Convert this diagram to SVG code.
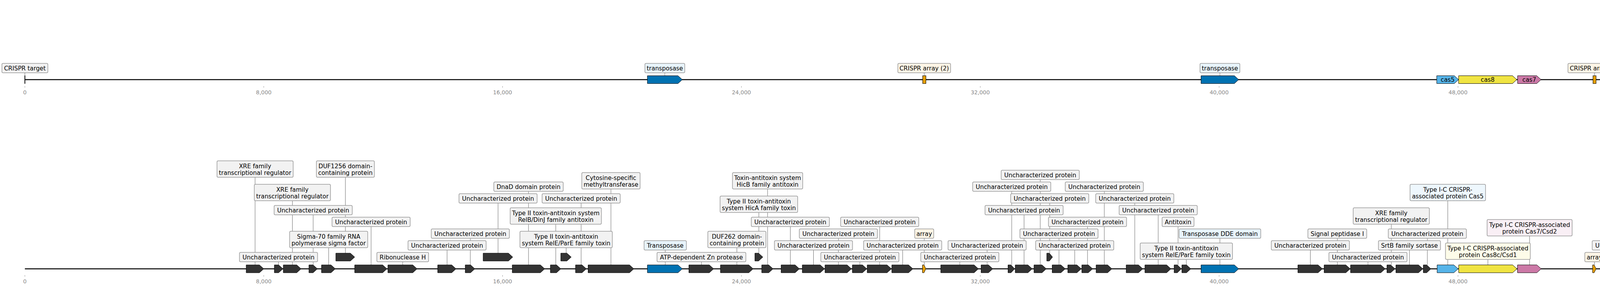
<svg xmlns="http://www.w3.org/2000/svg" width="4915" height="736" viewBox="0 0 4915 736">
<style>
.ax{stroke:#000;stroke-width:2.5;fill:none}
.tk{stroke:#999;stroke-width:1}
.tl{font-family:"DejaVu Sans",sans-serif;font-size:13.9px;fill:#888;text-anchor:middle}
.g{fill:#333;stroke:#000;stroke-width:1}
.tp{fill:#0072b2;stroke:#000;stroke-width:1}
.ar{fill:#e69f00;stroke:#000;stroke-width:1}
.c5{fill:#56b4e9;stroke:#000;stroke-width:1}
.c8{fill:#f0e442;stroke:#000;stroke-width:1}
.c7{fill:#cc79a7;stroke:#000;stroke-width:1}
.c9{fill:#d55e00;stroke:#000;stroke-width:1}
.b{fill:#f2f2f2;stroke:#999;stroke-width:1.5}
.bb{fill:#e8f4fb;stroke:#999;stroke-width:1.5}
.bs{fill:#eef7fd;stroke:#999;stroke-width:1.5}
.bo{fill:#fdf5e6;stroke:#999;stroke-width:1.5}
.by{fill:#fdfce9;stroke:#999;stroke-width:1.5}
.bp{fill:#f9eff5;stroke:#999;stroke-width:1.5}
.t{font-family:"DejaVu Sans",sans-serif;font-size:15.28px;fill:#000;text-anchor:middle}
.tw{font-family:"DejaVu Sans",sans-serif;font-size:15.28px;fill:#fff;text-anchor:middle}
.ln{stroke:#666;stroke-width:1}
</style>
<g id="axes">
<line class="ax" x1="63.7" y1="203.5" x2="4760" y2="203.5"/>
<line class="ax" x1="63.7" y1="687" x2="4760" y2="687"/>
<g class="tk">
<line x1="63.7" y1="220" x2="63.7" y2="224"/><line x1="675.2" y1="220" x2="675.2" y2="224"/><line x1="1286.6" y1="220" x2="1286.6" y2="224"/><line x1="1898.1" y1="220" x2="1898.1" y2="224"/><line x1="2509.5" y1="220" x2="2509.5" y2="224"/><line x1="3121" y1="220" x2="3121" y2="224"/><line x1="3732.5" y1="220" x2="3732.5" y2="224"/><line x1="4344" y1="220" x2="4344" y2="224"/>
<line x1="63.7" y1="703" x2="63.7" y2="707"/><line x1="675.2" y1="703" x2="675.2" y2="707"/><line x1="1286.6" y1="703" x2="1286.6" y2="707"/><line x1="1898.1" y1="703" x2="1898.1" y2="707"/><line x1="2509.5" y1="703" x2="2509.5" y2="707"/><line x1="3121" y1="703" x2="3121" y2="707"/><line x1="3732.5" y1="703" x2="3732.5" y2="707"/><line x1="4344" y1="703" x2="4344" y2="707"/>
</g>
<text class="tl" x="63.7" y="241">0</text><text class="tl" x="675.2" y="241">8,000</text><text class="tl" x="1286.6" y="241">16,000</text><text class="tl" x="1898.1" y="241">24,000</text><text class="tl" x="2509.5" y="241">32,000</text><text class="tl" x="3121" y="241">40,000</text><text class="tl" x="3732.5" y="241">48,000</text><text class="tl" x="4344" y="241">56,000</text>
<text class="tl" x="63.7" y="724">0</text><text class="tl" x="675.2" y="724">8,000</text><text class="tl" x="1286.6" y="724">16,000</text><text class="tl" x="1898.1" y="724">24,000</text><text class="tl" x="2509.5" y="724">32,000</text><text class="tl" x="3121" y="724">40,000</text><text class="tl" x="3732.5" y="724">48,000</text><text class="tl" x="4344" y="724">56,000</text>
</g>
<g id="connectors" class="ln">
<line x1="63.7" y1="186" x2="63.7" y2="193"/><line x1="1702" y1="186" x2="1702" y2="193"/><line x1="2366" y1="186" x2="2366" y2="193"/><line x1="3123" y1="186" x2="3123" y2="193"/><line x1="4082" y1="186" x2="4082" y2="193"/>
<line x1="653" y1="677" x2="653" y2="453"/>
<line x1="713" y1="677" x2="713" y2="669"/>
<line x1="748.5" y1="677" x2="748.5" y2="513"/>
<line x1="801.7" y1="677" x2="801.7" y2="549"/>
<line x1="841.4" y1="677" x2="841.4" y2="633"/>
<line x1="884.2" y1="647" x2="884.2" y2="453"/>
<line x1="950" y1="677" x2="950" y2="579"/>
<line x1="1031" y1="677" x2="1031" y2="669"/>
<line x1="1144.5" y1="677" x2="1144.5" y2="639"/>
<line x1="1204" y1="677" x2="1204" y2="609"/>
<line x1="1275" y1="647" x2="1275" y2="519"/>
<line x1="1353" y1="677" x2="1353" y2="489"/>
<line x1="1422.8" y1="677" x2="1422.8" y2="573"/>
<line x1="1449.3" y1="647" x2="1449.3" y2="633"/>
<line x1="1487.7" y1="677" x2="1487.7" y2="519"/>
<line x1="1564" y1="677" x2="1564" y2="483"/>
<line x1="1703" y1="677" x2="1703" y2="639"/>
<line x1="1795.7" y1="677" x2="1795.7" y2="669"/>
<line x1="1886.4" y1="677" x2="1886.4" y2="633"/>
<line x1="1942.7" y1="647" x2="1942.7" y2="543"/>
<line x1="1965" y1="677" x2="1965" y2="483"/>
<line x1="2023.3" y1="677" x2="2023.3" y2="579"/>
<line x1="2082.5" y1="677" x2="2082.5" y2="639"/>
<line x1="2146.3" y1="677" x2="2146.3" y2="609"/>
<line x1="2201.3" y1="677" x2="2201.3" y2="669"/>
<line x1="2252" y1="677" x2="2252" y2="579"/>
<line x1="2310.8" y1="677" x2="2310.8" y2="639"/>
<line x1="2366" y1="677" x2="2366" y2="609"/>
<line x1="2457.2" y1="677" x2="2457.2" y2="669"/>
<line x1="2527" y1="677" x2="2527" y2="639"/>
<line x1="2590" y1="677" x2="2590" y2="489"/>
<line x1="2621.6" y1="677" x2="2621.6" y2="549"/>
<line x1="2663" y1="677" x2="2663" y2="459"/>
<line x1="2687.3" y1="647" x2="2687.3" y2="519"/>
<line x1="2711" y1="677" x2="2711" y2="609"/>
<line x1="2751.3" y1="677" x2="2751.3" y2="639"/>
<line x1="2784" y1="677" x2="2784" y2="579"/>
<line x1="2827" y1="677" x2="2827" y2="489"/>
<line x1="2905" y1="677" x2="2905" y2="519"/>
<line x1="2965" y1="677" x2="2965" y2="549"/>
<line x1="3015.8" y1="677" x2="3015.8" y2="579"/>
<line x1="3037" y1="677" x2="3037" y2="663"/>
<line x1="3123" y1="677" x2="3123" y2="609"/>
<line x1="3354.5" y1="677" x2="3354.5" y2="639"/>
<line x1="3423.5" y1="677" x2="3423.5" y2="609"/>
<line x1="3502" y1="677" x2="3502" y2="669"/>
<line x1="3561.7" y1="677" x2="3561.7" y2="573"/>
<line x1="3608.2" y1="677" x2="3608.2" y2="639"/>
<line x1="3654" y1="677" x2="3654" y2="609"/>
<line x1="3706.3" y1="677" x2="3706.3" y2="513"/>
<line x1="3809" y1="677" x2="3809" y2="663"/>
<line x1="3915.8" y1="677" x2="3915.8" y2="603"/>
<line x1="4082" y1="677" x2="4082" y2="669"/>
<line x1="4176" y1="677" x2="4176" y2="639"/>
<line x1="4284.4" y1="677" x2="4284.4" y2="669"/>
<line x1="4325.7" y1="677" x2="4325.7" y2="579"/>
<line x1="4406" y1="677" x2="4406" y2="609"/>
<line x1="4469.2" y1="677" x2="4469.2" y2="549"/>
<line x1="4507.5" y1="677" x2="4507.5" y2="639"/>
<line x1="4547.3" y1="677" x2="4547.3" y2="519"/>
<line x1="4581.5" y1="677" x2="4581.5" y2="669"/>
<line x1="4641" y1="677" x2="4641" y2="579"/>
<line x1="4668.8" y1="677" x2="4668.8" y2="489"/>
<line x1="4694.8" y1="677" x2="4694.8" y2="609"/>
<line x1="4727.5" y1="677" x2="4727.5" y2="639"/>
<line x1="4813.2" y1="677" x2="4813.2" y2="669"/>
</g>
<g id="top-track">
<g id="t-crispr-target"><line x1="63.7" y1="193" x2="63.7" y2="214" stroke="#000" stroke-width="2"/><rect class="b" x="4.85" y="162" width="117.7" height="24" rx="3"/><text class="t" x="63.7" y="180">CRISPR target</text></g>
<g id="t-transposase1"><polygon class="tp" points="1657.3,193.5 1735.7,193.5 1746.7,203.5 1735.7,213.5 1657.3,213.5"/><rect class="bb" x="1651" y="162" width="102" height="24" rx="3"/><text class="t" x="1702" y="180">transposase</text></g>
<g id="t-array1"><rect class="ar" x="2362" y="193.5" width="8.4" height="20"/><rect class="bo" x="2298.5" y="162" width="135" height="24" rx="3"/><text class="t" x="2366" y="180">CRISPR array (2)</text></g>
<g id="t-transposase2"><polygon class="tp" points="3074.7,193.5 3160,193.5 3171,203.5 3160,213.5 3074.7,213.5"/><rect class="bb" x="3072" y="162" width="102" height="24" rx="3"/><text class="t" x="3123" y="180">transposase</text></g>
<g id="t-cas5"><polygon class="c5" points="3678,193.5 3723,193.5 3734,203.5 3723,213.5 3678,213.5"/><text class="t" x="3706" y="209">cas5</text></g>
<g id="t-cas8"><polygon class="c8" points="3734,193.5 3872,193.5 3883,203.5 3872,213.5 3734,213.5"/><text class="t" x="3808.5" y="209">cas8</text></g>
<g id="t-cas7"><polygon class="c7" points="3885,193.5 3934,193.5 3945,203.5 3934,213.5 3885,213.5"/><text class="t" x="3915" y="209">cas7</text></g>
<g id="t-array2"><rect class="ar" x="4078" y="193.5" width="8" height="20"/><rect class="bo" x="4014" y="162" width="136" height="24" rx="3"/><text class="t" x="4082" y="180">CRISPR array (2)</text></g>
<g id="t-cas9"><polygon class="c9" points="4867.5,193.5 4764,193.5 4753.5,203.5 4764,213.5 4867.5,213.5"/><text class="tw" x="4810" y="209">cas9</text></g>
</g>
<g id="bottom-track">
<g id="n1"><polygon class="g" points="630.2,677 664.2,677 675.2,687 664.2,697 630.2,697"/><rect class="b" x="555.5" y="411" width="195" height="42" rx="3"/><text class="t" x="653" y="429.5">XRE family<tspan x="653" y="446.5">transcriptional regulator</tspan></text></g>
<g id="n2"><polygon class="g" points="702.3,677 713.3,677 724.3,687 713.3,697 702.3,697"/><rect class="b" x="613" y="645" width="200" height="24" rx="3"/><text class="t" x="713" y="663">Uncharacterized protein</text></g>
<g id="n3"><polygon class="g" points="725.2,677 759.7,677 770.7,687 759.7,697 725.2,697"/><rect class="b" x="651" y="471" width="195" height="42" rx="3"/><text class="t" x="748.5" y="489.5">XRE family<tspan x="748.5" y="506.5">transcriptional regulator</tspan></text></g>
<g id="n4"><polygon class="g" points="790.9,677 801.5,677 812.5,687 801.5,697 790.9,697"/><rect class="b" x="701.7" y="525" width="200" height="24" rx="3"/><text class="t" x="801.7" y="543">Uncharacterized protein</text></g>
<g id="n5"><polygon class="g" points="823,677 847.4,677 858.4,687 847.4,697 823,697"/><rect class="b" x="741.4" y="591" width="200" height="42" rx="3"/><text class="t" x="841.4" y="609.5">Sigma-70 family RNA<tspan x="841.4" y="626.5">polymerase sigma factor</tspan></text></g>
<g id="n6"><polygon class="g" points="859.8,647 897,647 908,657 897,667 859.8,667"/><rect class="b" x="809.95" y="411" width="148.5" height="42" rx="3"/><text class="t" x="884.2" y="429.5">DUF1256 domain-<tspan x="884.2" y="446.5">containing protein</tspan></text></g>
<g id="n7"><polygon class="g" points="908,677 979.6,677 990.6,687 979.6,697 908,697"/><rect class="b" x="850" y="555" width="200" height="24" rx="3"/><text class="t" x="950" y="573">Uncharacterized protein</text></g>
<g id="n8"><polygon class="g" points="993,677 1056.7,677 1067.7,687 1056.7,697 993,697"/><rect class="b" x="964.7" y="645" width="132.6" height="24" rx="3"/><text class="t" x="1031" y="663">Ribonuclease H</text></g>
<g id="n9"><polygon class="g" points="1120.5,677 1156.4,677 1167.4,687 1156.4,697 1120.5,697"/><rect class="b" x="1044.5" y="615" width="200" height="24" rx="3"/><text class="t" x="1144.5" y="633">Uncharacterized protein</text></g>
<g id="n10"><polygon class="g" points="1191,677 1204.6,677 1215.6,687 1204.6,697 1191,697"/><rect class="b" x="1104" y="585" width="200" height="24" rx="3"/><text class="t" x="1204" y="603">Uncharacterized protein</text></g>
<g id="n11"><polygon class="g" points="1236.9,647 1301.6,647 1312.6,657 1301.6,667 1236.9,667"/><rect class="b" x="1175" y="495" width="200" height="24" rx="3"/><text class="t" x="1275" y="513">Uncharacterized protein</text></g>
<g id="n12"><polygon class="g" points="1311.3,677 1383.4,677 1394.4,687 1383.4,697 1311.3,697"/><rect class="b" x="1264.2" y="465" width="177.6" height="24" rx="3"/><text class="t" x="1353" y="483">DnaD domain protein</text></g>
<g id="n13"><polygon class="g" points="1409,677 1424.7,677 1435.7,687 1424.7,697 1409,697"/><rect class="b" x="1306.05" y="531" width="233.5" height="42" rx="3"/><text class="t" x="1422.8" y="549.5">Type II toxin-antitoxin system<tspan x="1422.8" y="566.5">RelB/DinJ family antitoxin</tspan></text></g>
<g id="n14"><polygon class="g" points="1435.7,647 1451.3,647 1462.3,657 1451.3,667 1435.7,667"/><rect class="b" x="1331.05" y="591" width="236.5" height="42" rx="3"/><text class="t" x="1449.3" y="609.5">Type II toxin-antitoxin<tspan x="1449.3" y="626.5">system RelE/ParE family toxin</tspan></text></g>
<g id="n15"><polygon class="g" points="1473.3,677 1490,677 1501,687 1490,697 1473.3,697"/><rect class="b" x="1387.7" y="495" width="200" height="24" rx="3"/><text class="t" x="1487.7" y="513">Uncharacterized protein</text></g>
<g id="n16"><polygon class="g" points="1505.5,677 1611.6,677 1622.6,687 1611.6,697 1505.5,697"/><rect class="b" x="1489.4" y="441" width="149.2" height="42" rx="3"/><text class="t" x="1564" y="459.5">Cytosine-specific<tspan x="1564" y="476.5">methyltransferase</tspan></text></g>
<g id="n17"><polygon class="tp" points="1657.3,677 1735.7,677 1746.7,687 1735.7,697 1657.3,697"/><rect class="bb" x="1648.8" y="615" width="108.4" height="24" rx="3"/><text class="t" x="1703" y="633">Transposase</text></g>
<g id="n18"><polygon class="g" points="1763.5,677 1815.9,677 1826.9,687 1815.9,697 1763.5,697"/><rect class="b" x="1681.95" y="645" width="227.5" height="24" rx="3"/><text class="t" x="1795.7" y="663">ATP-dependent Zn protease</text></g>
<g id="n19"><polygon class="g" points="1844.3,677 1917,677 1928,687 1917,697 1844.3,697"/><rect class="b" x="1812.05" y="591" width="148.7" height="42" rx="3"/><text class="t" x="1886.4" y="609.5">DUF262 domain-<tspan x="1886.4" y="626.5">containing protein</tspan></text></g>
<g id="n20"><polygon class="g" points="1932.5,647 1941.9,647 1952.9,657 1941.9,667 1932.5,667"/><rect class="b" x="1843.4" y="501" width="198.6" height="42" rx="3"/><text class="t" x="1942.7" y="519.5">Type II toxin-antitoxin<tspan x="1942.7" y="536.5">system HicA family toxin</tspan></text></g>
<g id="n21"><polygon class="g" points="1950,677 1968,677 1979,687 1968,697 1950,697"/><rect class="b" x="1875.1" y="441" width="179.8" height="42" rx="3"/><text class="t" x="1965" y="459.5">Toxin-antitoxin system<tspan x="1965" y="476.5">HicB family antitoxin</tspan></text></g>
<g id="n22"><polygon class="g" points="1999.7,677 2035.5,677 2046.5,687 2035.5,697 1999.7,697"/><rect class="b" x="1923.3" y="555" width="200" height="24" rx="3"/><text class="t" x="2023.3" y="573">Uncharacterized protein</text></g>
<g id="n23"><polygon class="g" points="2053.9,677 2099.8,677 2110.8,687 2099.8,697 2053.9,697"/><rect class="b" x="1982.5" y="615" width="200" height="24" rx="3"/><text class="t" x="2082.5" y="633">Uncharacterized protein</text></g>
<g id="n24"><polygon class="g" points="2112,677 2168.7,677 2179.7,687 2168.7,697 2112,697"/><rect class="b" x="2046.3" y="585" width="200" height="24" rx="3"/><text class="t" x="2146.3" y="603">Uncharacterized protein</text></g>
<g id="n25"><polygon class="g" points="2182,677 2208,677 2219,687 2208,697 2182,697"/><rect class="b" x="2101.3" y="645" width="200" height="24" rx="3"/><text class="t" x="2201.3" y="663">Uncharacterized protein</text></g>
<g id="n26"><polygon class="g" points="2220,677 2271,677 2282,687 2271,697 2220,697"/><rect class="b" x="2152" y="555" width="200" height="24" rx="3"/><text class="t" x="2252" y="573">Uncharacterized protein</text></g>
<g id="n27"><polygon class="g" points="2283,677 2326,677 2337,687 2326,697 2283,697"/><rect class="b" x="2210.8" y="615" width="200" height="24" rx="3"/><text class="t" x="2310.8" y="633">Uncharacterized protein</text></g>
<g id="n28"><polygon class="ar" points="2361.5,677 2365.5,677 2370.2,687 2365.5,697 2361.5,697"/><rect class="bo" x="2341.65" y="585" width="48.7" height="24" rx="3"/><text class="t" x="2366" y="603">array</text></g>
<g id="n29"><polygon class="g" points="2408.3,677 2493.7,677 2504.7,687 2493.7,697 2408.3,697"/><rect class="b" x="2357.2" y="645" width="200" height="24" rx="3"/><text class="t" x="2457.2" y="663">Uncharacterized protein</text></g>
<g id="n30"><polygon class="g" points="2511.6,677 2530.5,677 2541.5,687 2530.5,697 2511.6,697"/><rect class="b" x="2427" y="615" width="200" height="24" rx="3"/><text class="t" x="2527" y="633">Uncharacterized protein</text></g>
<g id="n31"><polygon class="g" points="2580.5,677 2588.2,677 2597.5,687 2588.2,697 2580.5,697"/><rect class="b" x="2490" y="465" width="200" height="24" rx="3"/><text class="t" x="2590" y="483">Uncharacterized protein</text></g>
<g id="n32"><polygon class="g" points="2599,677 2631.5,677 2642.5,687 2631.5,697 2599,697"/><rect class="b" x="2521.6" y="525" width="200" height="24" rx="3"/><text class="t" x="2621.6" y="543">Uncharacterized protein</text></g>
<g id="n33"><polygon class="g" points="2647,677 2667.5,677 2678.5,687 2667.5,697 2647,697"/><rect class="b" x="2563" y="435" width="200" height="24" rx="3"/><text class="t" x="2663" y="453">Uncharacterized protein</text></g>
<g id="n34"><polygon class="g" points="2679.8,647 2686.4,647 2694.5,657 2686.4,667 2679.8,667"/><rect class="b" x="2587.3" y="495" width="200" height="24" rx="3"/><text class="t" x="2687.3" y="513">Uncharacterized protein</text></g>
<g id="n35"><polygon class="g" points="2693.6,677 2716,677 2727,687 2716,697 2693.6,697"/><rect class="b" x="2611" y="585" width="200" height="24" rx="3"/><text class="t" x="2711" y="603">Uncharacterized protein</text></g>
<g id="n36"><polygon class="g" points="2733.6,677 2757,677 2768,687 2757,697 2733.6,697"/><rect class="b" x="2651.3" y="615" width="200" height="24" rx="3"/><text class="t" x="2751.3" y="633">Uncharacterized protein</text></g>
<g id="n37"><polygon class="g" points="2769.4,677 2786,677 2797,687 2786,697 2769.4,697"/><rect class="b" x="2684" y="555" width="200" height="24" rx="3"/><text class="t" x="2784" y="573">Uncharacterized protein</text></g>
<g id="n38"><polygon class="g" points="2806,677 2835.5,677 2846.5,687 2835.5,697 2806,697"/><rect class="b" x="2727" y="465" width="200" height="24" rx="3"/><text class="t" x="2827" y="483">Uncharacterized protein</text></g>
<g id="n39"><polygon class="g" points="2883,677 2914.5,677 2925.5,687 2914.5,697 2883,697"/><rect class="b" x="2805" y="495" width="200" height="24" rx="3"/><text class="t" x="2905" y="513">Uncharacterized protein</text></g>
<g id="n40"><polygon class="g" points="2931,677 2986.6,677 2997.6,687 2986.6,697 2931,697"/><rect class="b" x="2865" y="525" width="200" height="24" rx="3"/><text class="t" x="2965" y="543">Uncharacterized protein</text></g>
<g id="n41"><polygon class="g" points="3005.8,677 3014.1,677 3024.2,687 3014.1,697 3005.8,697"/><rect class="b" x="2974.95" y="555" width="81.7" height="24" rx="3"/><text class="t" x="3015.8" y="573">Antitoxin</text></g>
<g id="n42"><polygon class="g" points="3025.6,677 3037.5,677 3048.5,687 3037.5,697 3025.6,697"/><rect class="b" x="2918.8" y="621" width="236.4" height="42" rx="3"/><text class="t" x="3037" y="639.5">Type II toxin-antitoxin<tspan x="3037" y="656.5">system RelE/ParE family toxin</tspan></text></g>
<g id="n43"><polygon class="tp" points="3074.7,677 3160,677 3171,687 3160,697 3074.7,697"/><rect class="bb" x="3018.5" y="585" width="209" height="24" rx="3"/><text class="t" x="3123" y="603">Transposase DDE domain</text></g>
<g id="n44"><polygon class="g" points="3322.6,677 3374.3,677 3385.3,687 3374.3,697 3322.6,697"/><rect class="b" x="3254.5" y="615" width="200" height="24" rx="3"/><text class="t" x="3354.5" y="633">Uncharacterized protein</text></g>
<g id="n45"><polygon class="g" points="3389.8,677 3445.4,677 3456.4,687 3445.4,697 3389.8,697"/><rect class="b" x="3348.25" y="585" width="150.5" height="24" rx="3"/><text class="t" x="3423.5" y="603">Signal peptidase I</text></g>
<g id="n46"><polygon class="g" points="3457.3,677 3535,677 3546,687 3535,697 3457.3,697"/><rect class="b" x="3402" y="645" width="200" height="24" rx="3"/><text class="t" x="3502" y="663">Uncharacterized protein</text></g>
<g id="n47"><polygon class="g" points="3550.5,677 3560.2,677 3571.2,687 3560.2,697 3550.5,697"/><rect class="b" x="3464.2" y="531" width="195" height="42" rx="3"/><text class="t" x="3561.7" y="549.5">XRE family<tspan x="3561.7" y="566.5">transcriptional regulator</tspan></text></g>
<g id="n48"><polygon class="g" points="3573.5,677 3631.4,677 3642.4,687 3631.4,697 3573.5,697"/><rect class="b" x="3528.7" y="615" width="159" height="24" rx="3"/><text class="t" x="3608.2" y="633">SrtB family sortase</text></g>
<g id="n49"><polygon class="g" points="3643.7,677 3652.4,677 3663,687 3652.4,697 3643.7,697"/><rect class="b" x="3554" y="585" width="200" height="24" rx="3"/><text class="t" x="3654" y="603">Uncharacterized protein</text></g>
<g id="n50"><polygon class="c5" points="3679,677 3721.8,677 3732.8,687 3721.8,697 3679,697"/><rect class="bs" x="3609.65" y="471" width="193.3" height="42" rx="3"/><text class="t" x="3706.3" y="489.5">Type I-C CRISPR-<tspan x="3706.3" y="506.5">associated protein Cas5</tspan></text></g>
<g id="n51"><polygon class="c8" points="3734.2,677 3872.4,677 3883.4,687 3872.4,697 3734.2,697"/><rect class="by" x="3700.45" y="621" width="217.1" height="42" rx="3"/><text class="t" x="3809" y="639.5">Type I-C CRISPR-associated<tspan x="3809" y="656.5">protein Cas8c/Csd1</tspan></text></g>
<g id="n52"><polygon class="c7" points="3884.8,677 3934.4,677 3945.4,687 3934.4,697 3884.8,697"/><rect class="bp" x="3806.95" y="561" width="217.7" height="42" rx="3"/><text class="t" x="3915.8" y="579.5">Type I-C CRISPR-associated<tspan x="3915.8" y="596.5">protein Cas7/Csd2</tspan></text></g>
<g id="n53"><polygon class="ar" points="4077,677 4081,677 4086,687 4081,697 4077,697"/><rect class="bo" x="4057.15" y="645" width="49.7" height="24" rx="3"/><text class="t" x="4082" y="663">array</text></g>
<g id="n54"><polygon class="g" points="4201.8,677 4162.3,677 4151.3,687 4162.3,697 4201.8,697"/><rect class="b" x="4076" y="615" width="200" height="24" rx="3"/><text class="t" x="4176" y="633">Uncharacterized protein</text></g>
<g id="n55"><polygon class="g" points="4292.7,677 4285.5,677 4276.6,687 4285.5,697 4292.7,697"/><rect class="b" x="4184.4" y="645" width="200" height="24" rx="3"/><text class="t" x="4284.4" y="663">Uncharacterized protein</text></g>
<g id="n56"><polygon class="g" points="4353.3,677 4309,677 4298,687 4309,697 4353.3,697"/><rect class="b" x="4225.7" y="555" width="200" height="24" rx="3"/><text class="t" x="4325.7" y="573">Uncharacterized protein</text></g>
<g id="n57"><polygon class="g" points="4442.8,677 4380.4,677 4369.4,687 4380.4,697 4442.8,697"/><rect class="b" x="4306" y="585" width="200" height="24" rx="3"/><text class="t" x="4406" y="603">Uncharacterized protein</text></g>
<g id="n58"><polygon class="g" points="4491.5,677 4457.5,677 4446.5,687 4457.5,697 4491.5,697"/><rect class="b" x="4369.2" y="525" width="200" height="24" rx="3"/><text class="t" x="4469.2" y="543">Uncharacterized protein</text></g>
<g id="n59"><polygon class="g" points="4522.7,677 4503.6,677 4492.6,687 4503.6,697 4522.7,697"/><rect class="b" x="4407.5" y="615" width="200" height="24" rx="3"/><text class="t" x="4507.5" y="633">Uncharacterized protein</text></g>
<g id="n60"><polygon class="g" points="4555.6,677 4548,677 4538.8,687 4548,697 4555.6,697"/><rect class="b" x="4447.3" y="495" width="200" height="24" rx="3"/><text class="t" x="4547.3" y="513">Uncharacterized protein</text></g>
<g id="n61"><polygon class="g" points="4607.7,677 4567.6,677 4556.6,687 4567.6,697 4607.7,697"/><rect class="b" x="4481.5" y="645" width="200" height="24" rx="3"/><text class="t" x="4581.5" y="663">Uncharacterized protein</text></g>
<g id="n62"><polygon class="g" points="4659.8,677 4634.5,677 4623.5,687 4634.5,697 4659.8,697"/><rect class="b" x="4541" y="555" width="200" height="24" rx="3"/><text class="t" x="4641" y="573">Uncharacterized protein</text></g>
<g id="n63"><polygon class="g" points="4677.3,677 4669.7,677 4660.5,687 4669.7,697 4677.3,697"/><rect class="b" x="4568.8" y="465" width="200" height="24" rx="3"/><text class="t" x="4668.8" y="483">Uncharacterized protein</text></g>
<g id="n64"><polygon class="g" points="4705.9,677 4695,677 4684,687 4695,697 4705.9,697"/><rect class="b" x="4594.8" y="585" width="200" height="24" rx="3"/><text class="t" x="4694.8" y="603">Uncharacterized protein</text></g>
<g id="n65"><polygon class="g" points="4736.1,677 4728.5,677 4719.3,687 4728.5,697 4736.1,697"/><rect class="b" x="4627.5" y="615" width="200" height="24" rx="3"/><text class="t" x="4727.5" y="633">Uncharacterized protein</text></g>
<g id="n66"><polygon class="g" points="4870,677 4767,677 4755,687 4767,697 4870,697"/><rect class="b" x="4713.2" y="645" width="200" height="24" rx="3"/><text class="t" x="4813.2" y="663">Uncharacterized protein</text></g>
</g>
</svg>
